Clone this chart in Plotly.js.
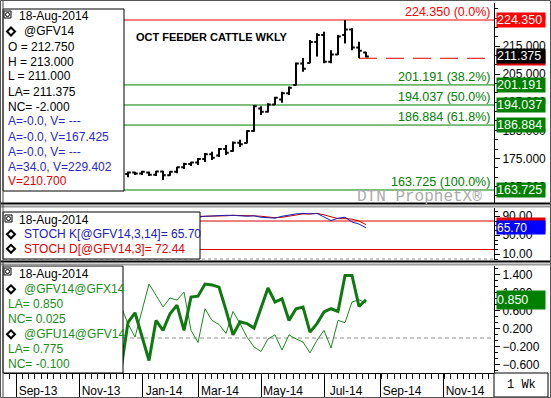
<!DOCTYPE html>
<html><head><meta charset="utf-8">
<script src="https://cdn.plot.ly/plotly-3.0.1.min.js"></script>
<style>html,body{margin:0;padding:0;background:#fff;overflow:hidden}#chart{width:551px;height:398px}</style>
</head><body><div id="chart"></div>
<script>
// ---------------- DATA ----------------
const weeks = ['2013-12-16','2013-12-23','2013-12-30','2014-01-06','2014-01-13','2014-01-20','2014-01-27','2014-02-03','2014-02-10','2014-02-17','2014-02-24','2014-03-03','2014-03-10','2014-03-17','2014-03-24','2014-03-31','2014-04-07','2014-04-14','2014-04-21','2014-04-28','2014-05-05','2014-05-12','2014-05-19','2014-05-26','2014-06-02','2014-06-09','2014-06-16','2014-06-23','2014-06-30','2014-07-07','2014-07-14','2014-07-21','2014-07-28','2014-08-04','2014-08-11','2014-08-18'];
const openP  = [169.0,169.4,170.0,169.6,170.0,169.2,170.3,169.0,170.2,171.8,173.0,173.5,174.8,176.5,176.0,178.3,177.6,180.6,180.5,184.8,192.8,191.6,194.2,196.0,198.2,201.2,208.8,209.0,216.5,219.0,209.5,212.0,219.0,221.0,214.5,212.75];
const highP  = [170.2,170.3,170.2,170.6,170.3,170.6,170.6,170.4,172.0,173.4,173.8,175.1,176.9,177.4,178.7,179.8,181.0,181.6,185.0,194.0,193.6,194.7,197.0,198.8,200.6,209.2,210.8,217.2,219.6,220.2,213.6,219.0,224.35,221.4,216.6,213.0];
const lowP   = [168.5,168.3,169.1,169.1,168.7,168.7,167.3,168.8,169.7,171.2,172.3,172.6,173.7,174.4,175.5,176.2,177.4,179.1,180.3,184.5,190.5,191.4,194.0,194.8,197.6,201.0,205.9,208.9,211.3,208.9,208.9,211.9,216.0,213.6,210.7,211.0];
const closeP = [169.5,170.0,169.6,170.2,169.2,170.3,169.0,170.2,171.8,173.0,173.5,174.8,176.5,175.2,178.3,177.0,180.6,180.0,184.8,193.6,191.6,194.2,196.6,198.2,200.2,208.8,207.0,216.5,219.0,209.5,212.0,218.5,221.0,214.5,213.375,211.375];
const stochK = [70,75,72,78,70,76,62,70,82,90,92,88,90,91,91,92,92,91,90,91,88,87,86,90,93,95,96,95,96,89,81,86,88,78,73.6,65.7];
const stochD = [72,73,72,75,73,75,69,69,71,81,88,90,90,90,91,91,92,92,91,91,90,89,87,88,90,93,95,95,96,93,89,85,85,84,80,72.44];
const spreadVX = [-0.7,0.35,0.56,0.03,-0.5,0.39,0.17,0.54,0.73,0.17,0.91,0.93,1.2,1.18,1.13,0.62,0.07,0.36,0.32,0.22,0.65,1.11,0.8,0.87,0.39,0.65,0.69,0.13,0.32,0.58,0.65,0.59,1.39,1.39,0.70,0.85];
const spreadUV = [0.7,0.32,0.02,0.6,1.2,0.95,0.69,0.89,0.84,1.02,0.17,-0.1,0.65,0.39,0.3,0.1,0.59,0.32,0.02,-0.2,-0.3,-0.02,0.07,-0.27,0.07,-0.02,-0.09,-0.33,-0.05,0.17,-0.22,0.39,0.34,0.8,0.85,0.775];
const fibLevels = [224.350,201.191,194.037,186.884,163.725];
const fibPcts   = ['0.0%','38.2%','50.0%','61.8%','100.0%'];
const stochLevels = [80,20];
const lastPrice = 211.375;
const alertV = 210.700;
const tickDates = ['2013-09-02','2013-11-04','2014-01-06','2014-03-03','2014-05-05','2014-07-07','2014-09-01','2014-11-03'];
const tickText  = ['Sep-13','Nov-13','Jan-14','Mar-14','May-14','Jul-14','Sep-14','Nov-14'];
const topLegend = [
  ['O = 212.750','#000'],['H = 213.000','#000'],['L = 211.000','#000'],['LA= 211.375','#000'],['NC= -2.000','#000'],
  ['A=-0.0, V= ---','#2a2ac8'],['A=-0.0, V=167.425','#2a2ac8'],['A=-0.0, V= ---','#2a2ac8'],['A=34.0, V=229.402','#2a2ac8'],['V=210.700','#e00000']];
const midLegend = [['STOCH K[@GFV14,3,14]= 65.70','#2020c0'],['STOCH D[@GFV14,3]= 72.44','#e00000']];
const botLegend = [['@GFV14@GFX14',true],['LA= 0.850',false],['NC= 0.025',false],['@GFU14@GFV14',true],['LA= 0.775',false],['NC= -0.100',false]];

// ---------------- HELPERS ----------------
const FONT='Liberation Sans, Arial, sans-serif', MONO='Liberation Mono, Courier New, monospace';
const Lm=4,Tm=3,Wp=490,Hp=370;
const px=x=>(x-Lm)/Wp, py=y=>(Tm+Hp-y)/Hp;
const GREEN='#008000', RED='#ff0000';

const traces=[
 {type:'ohlc',x:weeks,open:openP,high:highP,low:lowP,close:closeP,xaxis:'x',yaxis:'y',
  increasing:{line:{color:'#000',width:2}},decreasing:{line:{color:'#000',width:2}},tickwidth:0.4,hoverinfo:'skip',showlegend:false},
 {type:'scatter',mode:'lines',x:weeks,y:stochD,xaxis:'x',yaxis:'y2',line:{color:'#c00000',width:1},showlegend:false,hoverinfo:'skip'},
 {type:'scatter',mode:'lines',x:weeks,y:stochK,xaxis:'x',yaxis:'y2',line:{color:'#2020b0',width:1},showlegend:false,hoverinfo:'skip'},
 {type:'scatter',mode:'lines',x:weeks,y:spreadUV,xaxis:'x',yaxis:'y3',line:{color:'#1c8a1c',width:1},showlegend:false,hoverinfo:'skip'},
 {type:'scatter',mode:'lines',x:weeks,y:spreadVX,xaxis:'x',yaxis:'y3',line:{color:'#107810',width:3},showlegend:false,hoverinfo:'skip'}
];

const shapes=[], ann=[];
// fib lines
fibLevels.forEach((v,i)=>{
  shapes.push({type:'line',xref:'paper',yref:'y',x0:0,x1:1,y0:v,y1:v,layer:'below',line:{color:i===0?RED:GREEN,width:1}});
  ann.push({xref:'paper',yref:'y',x:px(492),y:v,yshift:8,xanchor:'right',yanchor:'middle',showarrow:false,
    text:v.toFixed(3)+' ('+fibPcts[i]+')',font:{family:FONT,size:12.5,color:i===0?RED:GREEN}});
});
shapes.push({type:'line',xref:'x',yref:'y',x0:weeks[34],x1:'2014-12-24',y0:alertV,y1:alertV,layer:'below',line:{color:'#e00000',width:1,dash:'18px,9px'}});
stochLevels.forEach(v=>shapes.push({type:'line',xref:'paper',yref:'y2',x0:0,x1:1,y0:v,y1:v,layer:'below',line:{color:'#e00000',width:1}}));
shapes.push({type:'line',xref:'paper',yref:'y2',x0:0,x1:1,y0:0,y1:0,layer:'below',line:{color:'#909090',width:1,dash:'3px,3px'}});
shapes.push({type:'line',xref:'paper',yref:'y3',x0:0,x1:1,y0:0,y1:0,layer:'below',line:{color:'#909090',width:1,dash:'4px,3px'}});

function rectPx(x0,y0,x1,y1,fill,lc,lw){shapes.push({type:'rect',xref:'paper',yref:'paper',x0:px(x0),x1:px(x1),y0:py(y1),y1:py(y0),layer:'above',fillcolor:fill,line:{color:lc,width:lw}});}
function linePx(x0,y0,x1,y1,lc,lw){shapes.push({type:'line',xref:'paper',yref:'paper',x0:px(x0),x1:px(x1),y0:py(y0),y1:py(y1),layer:'above',line:{color:lc,width:lw}});}
function icon(x,y){rectPx(x,y,x+7,y+7,'rgba(0,0,0,0)','#000',1);shapes.push({type:'circle',xref:'paper',yref:'paper',x0:px(x+1.5),x1:px(x+5.5),y0:py(y+5.5),y1:py(y+1.5),layer:'above',line:{color:'#000',width:1}});}
function diamond(cx,cy){const s=4;shapes.push({type:'path',xref:'paper',yref:'paper',layer:'above',line:{color:'#000',width:2},
  path:`M${px(cx-s)},${py(cy)} L${px(cx)},${py(cy-s)} L${px(cx+s)},${py(cy)} L${px(cx)},${py(cy+s)} Z`});}
function txt(x,y,t,color,size,fam,anchor,bold){ann.push({xref:'paper',yref:'paper',x:px(x),y:py(y),xanchor:anchor||'left',yanchor:'middle',showarrow:false,
  text:bold?'<b>'+t+'</b>':t,font:{family:fam||FONT,size:size||12,color:color||'#000'}});}

// legend boxes
rectPx(3,9,124,191,'#fff','#000',1);
rectPx(3,212,200,259,'#fff','#000',1);
rectPx(3,266,123,373,'#fff','#000',1);
icon(4,11); icon(5,215); icon(4,268);
txt(17,16,'18-Aug-2014'); diamond(11,31.5); txt(22,31.5,'@GFV14');
topLegend.forEach((l,i)=>txt(6,46.5+15*i,l[0],l[1]));
txt(17,220,'18-Aug-2014'); midLegend.forEach((l,i)=>{diamond(11,234.3+14.5*i);txt(22,234.3+14.5*i,l[0],l[1]);});
txt(17,274,'18-Aug-2014');
botLegend.forEach((l,i)=>{const y=289.3+15*i;if(l[1]){diamond(11,y);txt(22,y,l[0],'#1a8c1a');}else txt(6,y,l[0],'#1a8c1a');});

// title & watermark
txt(134,37,'OCT FEEDER CATTLE WKLY','#000',11,FONT,'left',true);
txt(484,197,'DTN ProphetX®','#aaaaaa',16,MONO,'right');

// right value boxes
function box(yref,v,text,bg,h,size){ann.push({xref:'paper',yref:yref,x:1,xshift:2,y:v,xanchor:'left',yanchor:'middle',showarrow:false,
  text:text,bgcolor:bg,width:48,height:h,align:'left',borderpad:0,font:{family:FONT,size:size,color:'#fff'}});}
fibLevels.forEach((v,i)=>box('y',v,v.toFixed(3),i===0?RED:GREEN,14,12.5));
box('y',alertV,'','#e00000',14,12.5);
box('y',lastPrice,lastPrice.toFixed(3),'#000',14,12.5);
box('y2',stochD[stochD.length-1],'','#e00000',13,12);
box('y2',stochK[stochK.length-1],stochK[stochK.length-1].toFixed(2),'#0000ff',13,12);
box('y3',spreadVX[spreadVX.length-1],spreadVX[spreadVX.length-1].toFixed(3),'#008000',18,12.5);

// separators & frame
linePx(0,203.5,551,203.5,'#000',2); linePx(0,206.5,551,206.5,'#999',2);
linePx(0,261.5,551,261.5,'#000',2); linePx(0,264.5,551,264.5,'#999',2);
linePx(3,0,3,398,'#444',1);
rectPx(494,373,548,397,'#fff','#000',1);
txt(521,385,'1 Wk','#000',12,MONO,'center');
rectPx(0.5,0.5,550.5,397.5,'rgba(0,0,0,0)','#555',1);

const yBase={side:'right',anchor:'x',ticks:'outside',showline:true,linecolor:'#000',linewidth:1,showgrid:false,zeroline:false,
  tickfont:{family:FONT,size:12,color:'#000'},tickcolor:'#000',fixedrange:true};
const layout={
  width:551,height:398,margin:{l:Lm,r:57,t:Tm,b:25},paper_bgcolor:'#fff',plot_bgcolor:'#fff',showlegend:false,
  xaxis:{anchor:'y3',type:'date',range:['2013-08-21','2014-12-24'],tickmode:'array',tickvals:tickDates,ticktext:tickText,
    ticks:'outside',ticklen:24,tickwidth:1,tickcolor:'#000',showline:true,linecolor:'#000',showgrid:false,zeroline:false,
    tickfont:{family:FONT,size:12,color:'#000'},ticklabelshift:22,ticklabelstandoff:-17,
    minor:{ticks:'outside',ticklen:5,tickcolor:'#000',dtick:6.3*86400000,tick0:'2013-09-02',showgrid:false},
    rangeslider:{visible:false},fixedrange:true},
  yaxis:Object.assign({},yBase,{domain:[0.4595,1],range:[159.09,230.41],tickformat:'.3f',tick0:165,dtick:10,ticklen:5,
    minor:{ticks:'outside',ticklen:3,tick0:165,dtick:10/3,tickcolor:'#000'}}),
  yaxis2:Object.assign({},yBase,{domain:[0.3054,0.4459],range:[-2.1,107.4],tickformat:'.2f',tick0:10,dtick:40,ticklen:5,
    minor:{ticks:'outside',ticklen:3,tick0:10,dtick:10,tickcolor:'#000'}}),
  yaxis3:Object.assign({},yBase,{domain:[0,0.2892],range:[-0.778,1.6],tickformat:'.3f',tick0:0.2,dtick:0.4,ticklen:5,
    minor:{ticks:'outside',ticklen:3,tick0:0.2,dtick:0.4/3,tickcolor:'#000'}}),
  shapes:shapes,annotations:ann
};
Plotly.newPlot('chart',traces,layout,{staticPlot:true,displayModeBar:false});
</script></body></html>
